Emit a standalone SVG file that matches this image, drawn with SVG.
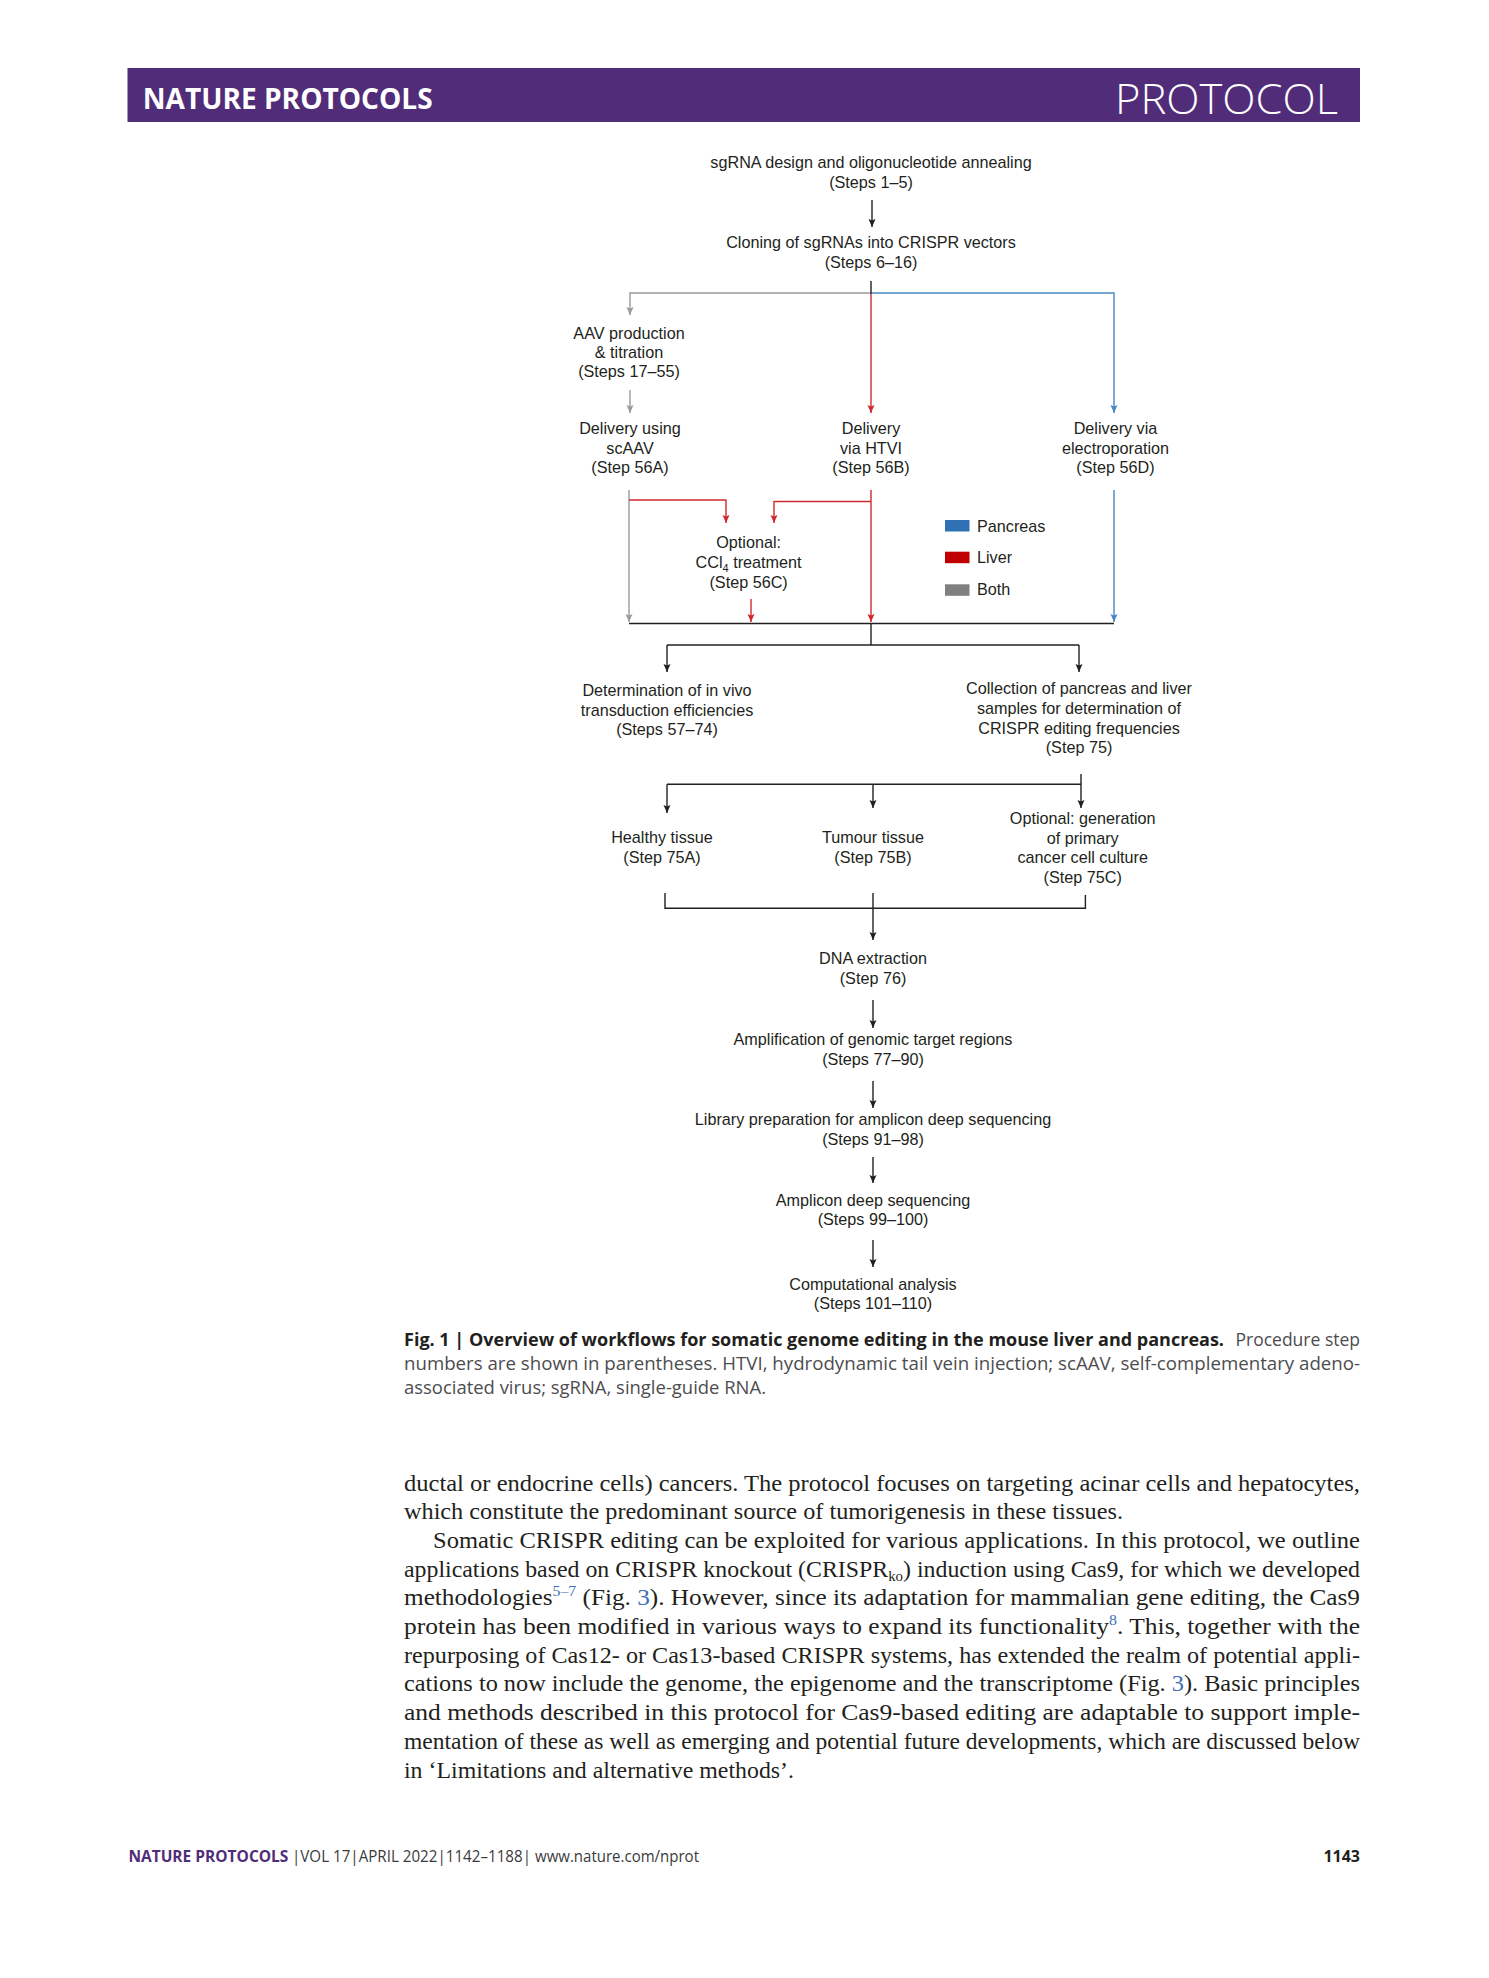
<svg xmlns="http://www.w3.org/2000/svg" width="1489" height="1978" viewBox="0 0 1489 1978">
<style>
.n{font-family:"Liberation Sans",Arial,sans-serif;font-size:16.2px;fill:#231F20;text-anchor:middle}
.lg{font-family:"Liberation Sans",Arial,sans-serif;font-size:16.2px;fill:#231F20}
.k{fill:none;stroke:#231F20;stroke-width:1.4}
.g{fill:none;stroke:#9A9A9A;stroke-width:1.4}
.r{fill:none;stroke:#CF2A2E;stroke-width:1.4}
.b{fill:none;stroke:#4A86C5;stroke-width:1.4}
.body{font-family:"Liberation Serif","Times New Roman",serif;font-size:24px;fill:#231F20}
.cap{font-family:"Open Sans","Liberation Sans",sans-serif;font-size:17.5px;fill:#4D4D4F}
.capb{font-family:"Open Sans","Liberation Sans",sans-serif;font-size:17px;font-weight:bold;fill:#231F20}
.ft{font-family:"Open Sans","Liberation Sans",sans-serif;font-size:15.5px;fill:#3A3A3C}
.ref{fill:#3E6DB5}
</style>
<defs>
<marker id="ak" viewBox="0 0 8 8" markerWidth="8" markerHeight="8" refX="8" refY="4" orient="auto" markerUnits="userSpaceOnUse"><path d="M0,0.5 L8,4 L0,7.5 L1.5,4 z" fill="#231F20"/></marker>
<marker id="ag" viewBox="0 0 8 8" markerWidth="8" markerHeight="8" refX="8" refY="4" orient="auto" markerUnits="userSpaceOnUse"><path d="M0,0.5 L8,4 L0,7.5 L1.5,4 z" fill="#9A9A9A"/></marker>
<marker id="ar" viewBox="0 0 8 8" markerWidth="8" markerHeight="8" refX="8" refY="4" orient="auto" markerUnits="userSpaceOnUse"><path d="M0,0.5 L8,4 L0,7.5 L1.5,4 z" fill="#CF2A2E"/></marker>
<marker id="ab" viewBox="0 0 8 8" markerWidth="8" markerHeight="8" refX="8" refY="4" orient="auto" markerUnits="userSpaceOnUse"><path d="M0,0.5 L8,4 L0,7.5 L1.5,4 z" fill="#4A86C5"/></marker>
</defs>
<rect width="1489" height="1978" fill="#FFFFFF"/>

<g id="header">
<rect x="127.5" y="68" width="1232.5" height="54" fill="#512D79"/>
<text x="142.7" y="109" font-family="'Open Sans','Liberation Sans',sans-serif" font-size="28" font-weight="bold" fill="#FFFFFF" textLength="290" lengthAdjust="spacingAndGlyphs">NATURE PROTOCOLS</text>
<text x="1115" y="113.5" font-family="'Open Sans','Liberation Sans',sans-serif" font-size="43" font-weight="300" fill="#FFFFFF" textLength="223" lengthAdjust="spacingAndGlyphs">PROTOCOL</text>
</g>

<g id="connectors">
<path class="k" d="M872,200 V227" marker-end="url(#ak)"/>
<path class="g" d="M871,293 H630 V315" marker-end="url(#ag)"/>
<path class="b" d="M871,293 H1114 V413" marker-end="url(#ab)"/>
<path class="r" d="M871,293 V413" marker-end="url(#ar)"/>
<path class="k" d="M871,281 V293.5"/>
<path class="g" d="M630,390 V413" marker-end="url(#ag)"/>
<path class="g" d="M629,490 V622" marker-end="url(#ag)"/>
<path class="r" d="M629,500 H726 V523" marker-end="url(#ar)"/>
<path class="r" d="M871,501.5 H774 V523" marker-end="url(#ar)"/>
<path class="r" d="M871,490 V622" marker-end="url(#ar)"/>
<path class="r" d="M751,599 V622" marker-end="url(#ar)"/>
<path class="b" d="M1114,490 V622" marker-end="url(#ab)"/>
<path class="k" d="M629,623.5 H1114"/>
<path class="k" d="M871,623.5 V645"/>
<path class="k" d="M667,645 H1079"/>
<path class="k" d="M667,645 V672" marker-end="url(#ak)"/>
<path class="k" d="M1079,645 V672" marker-end="url(#ak)"/>
<path class="k" d="M1081,774 V808" marker-end="url(#ak)"/>
<path class="k" d="M667,784.3 H1081"/>
<path class="k" d="M667,784.3 V813" marker-end="url(#ak)"/>
<path class="k" d="M873,784.3 V808" marker-end="url(#ak)"/>
<path class="k" d="M665,893 V908.3 H1085.4 V895"/>
<path class="k" d="M873,893 V940" marker-end="url(#ak)"/>
<path class="k" d="M873,1000 V1028" marker-end="url(#ak)"/>
<path class="k" d="M873,1081 V1108" marker-end="url(#ak)"/>
<path class="k" d="M873,1157 V1183" marker-end="url(#ak)"/>
<path class="k" d="M873,1240 V1267" marker-end="url(#ak)"/>
</g>

<g id="n-sgrna"><text class="n" x="871" y="168">sgRNA design and oligonucleotide annealing</text><text class="n" x="871" y="188">(Steps 1–5)</text></g>
<g id="n-cloning"><text class="n" x="871" y="248">Cloning of sgRNAs into CRISPR vectors</text><text class="n" x="871" y="268">(Steps 6–16)</text></g>
<g id="n-aav"><text class="n" x="629" y="339">AAV production</text><text class="n" x="629" y="358">&amp; titration</text><text class="n" x="629" y="377">(Steps 17–55)</text></g>
<g id="n-scaav"><text class="n" x="630" y="434">Delivery using</text><text class="n" x="630" y="453.5">scAAV</text><text class="n" x="630" y="473">(Step 56A)</text></g>
<g id="n-htvi"><text class="n" x="871" y="434">Delivery</text><text class="n" x="871" y="453.5">via HTVI</text><text class="n" x="871" y="473">(Step 56B)</text></g>
<g id="n-electro"><text class="n" x="1115.5" y="434">Delivery via</text><text class="n" x="1115.5" y="453.5">electroporation</text><text class="n" x="1115.5" y="473">(Step 56D)</text></g>
<g id="n-ccl4"><text class="n" x="748.6" y="548">Optional:</text><text class="n" x="748.6" y="568">CCl<tspan font-size="11" dy="4">4</tspan><tspan dy="-4"> treatment</tspan></text><text class="n" x="748.6" y="588">(Step 56C)</text></g>
<g id="legend">
<rect x="945" y="520" width="24.5" height="11.5" fill="#2E72B5"/><text class="lg" x="977" y="531.5">Pancreas</text>
<rect x="945" y="551.7" width="24.5" height="11.5" fill="#C00000"/><text class="lg" x="977" y="562.7">Liver</text>
<rect x="945" y="584.3" width="24.5" height="11.5" fill="#808080"/><text class="lg" x="977" y="595">Both</text>
</g>
<g id="n-determination"><text class="n" x="667" y="696">Determination of in vivo</text><text class="n" x="667" y="716">transduction efficiencies</text><text class="n" x="667" y="735">(Steps 57–74)</text></g>
<g id="n-collection"><text class="n" x="1079" y="694">Collection of pancreas and liver</text><text class="n" x="1079" y="714">samples for determination of</text><text class="n" x="1079" y="733.5">CRISPR editing frequencies</text><text class="n" x="1079" y="753">(Step 75)</text></g>
<g id="n-healthy"><text class="n" x="662" y="843">Healthy tissue</text><text class="n" x="662" y="863">(Step 75A)</text></g>
<g id="n-tumour"><text class="n" x="873" y="843">Tumour tissue</text><text class="n" x="873" y="863">(Step 75B)</text></g>
<g id="n-culture"><text class="n" x="1082.7" y="824">Optional: generation</text><text class="n" x="1082.7" y="843.5">of primary</text><text class="n" x="1082.7" y="863">cancer cell culture</text><text class="n" x="1082.7" y="883">(Step 75C)</text></g>
<g id="n-dna"><text class="n" x="873" y="963.5">DNA extraction</text><text class="n" x="873" y="983.5">(Step 76)</text></g>
<g id="n-amplification"><text class="n" x="873" y="1045">Amplification of genomic target regions</text><text class="n" x="873" y="1065">(Steps 77–90)</text></g>
<g id="n-library"><text class="n" x="873" y="1125">Library preparation for amplicon deep sequencing</text><text class="n" x="873" y="1145">(Steps 91–98)</text></g>
<g id="n-sequencing"><text class="n" x="873" y="1206">Amplicon deep sequencing</text><text class="n" x="873" y="1225">(Steps 99–100)</text></g>
<g id="n-computational"><text class="n" x="873" y="1290">Computational analysis</text><text class="n" x="873" y="1309">(Steps 101–110)</text></g>

<g id="caption">
<text class="capb" x="404" y="1346" textLength="820" lengthAdjust="spacingAndGlyphs">Fig. 1 | Overview of workflows for somatic genome editing in the mouse liver and pancreas.</text>
<text class="cap" x="1360" y="1346" text-anchor="end">Procedure step</text>
<text class="cap" x="404" y="1370" textLength="956" lengthAdjust="spacingAndGlyphs">numbers are shown in parentheses. HTVI, hydrodynamic tail vein injection; scAAV, self-complementary adeno-</text>
<text class="cap" x="404" y="1394" textLength="362" lengthAdjust="spacingAndGlyphs">associated virus; sgRNA, single-guide RNA.</text>
</g>

<g id="bodytext">
<text class="body" x="404" y="1490.5" textLength="956" lengthAdjust="spacingAndGlyphs">ductal or endocrine cells) cancers. The protocol focuses on targeting acinar cells and hepatocytes,</text>
<text class="body" x="404" y="1519.2" textLength="719" lengthAdjust="spacingAndGlyphs">which constitute the predominant source of tumorigenesis in these tissues.</text>
<text class="body" x="433" y="1547.9" textLength="927" lengthAdjust="spacingAndGlyphs">Somatic CRISPR editing can be exploited for various applications. In this protocol, we outline</text>
<text class="body" x="404" y="1576.6" textLength="956" lengthAdjust="spacingAndGlyphs">applications based on CRISPR knockout (CRISPR<tspan font-size="15" dy="4">ko</tspan><tspan dy="-4">) induction using Cas9, for which we developed</tspan></text>
<text class="body" x="404" y="1605.3" textLength="956" lengthAdjust="spacingAndGlyphs">methodologies<tspan class="ref" font-size="15" dy="-9">5–7</tspan><tspan dy="9"> (Fig. </tspan><tspan class="ref">3</tspan>). However, since its adaptation for mammalian gene editing, the Cas9</text>
<text class="body" x="404" y="1634" textLength="956" lengthAdjust="spacingAndGlyphs">protein has been modified in various ways to expand its functionality<tspan class="ref" font-size="15" dy="-9">8</tspan><tspan dy="9">. This, together with the</tspan></text>
<text class="body" x="404" y="1662.7" textLength="956" lengthAdjust="spacingAndGlyphs">repurposing of Cas12- or Cas13-based CRISPR systems, has extended the realm of potential appli-</text>
<text class="body" x="404" y="1691.4" textLength="956" lengthAdjust="spacingAndGlyphs">cations to now include the genome, the epigenome and the transcriptome (Fig. <tspan class="ref">3</tspan>). Basic principles</text>
<text class="body" x="404" y="1720.1" textLength="956" lengthAdjust="spacingAndGlyphs">and methods described in this protocol for Cas9-based editing are adaptable to support imple-</text>
<text class="body" x="404" y="1748.8" textLength="956" lengthAdjust="spacingAndGlyphs">mentation of these as well as emerging and potential future developments, which are discussed below</text>
<text class="body" x="404" y="1777.5" textLength="390" lengthAdjust="spacingAndGlyphs">in ‘Limitations and alternative methods’.</text>
</g>

<g id="footer">
<text x="128.4" y="1862" font-family="'Open Sans','Liberation Sans',sans-serif" font-size="15.5" font-weight="bold" fill="#512D79" textLength="160" lengthAdjust="spacingAndGlyphs">NATURE PROTOCOLS</text>
<text class="ft" x="292" y="1862" textLength="239" lengthAdjust="spacingAndGlyphs">|VOL 17|APRIL 2022|1142–1188|</text>
<text class="ft" x="535" y="1862" fill="#3E6DB5" textLength="164" lengthAdjust="spacingAndGlyphs">www.nature.com/nprot</text>
<text x="1360" y="1862" font-family="'Open Sans','Liberation Sans',sans-serif" font-size="16" font-weight="bold" fill="#231F20" text-anchor="end">1143</text>
</g>
</svg>
